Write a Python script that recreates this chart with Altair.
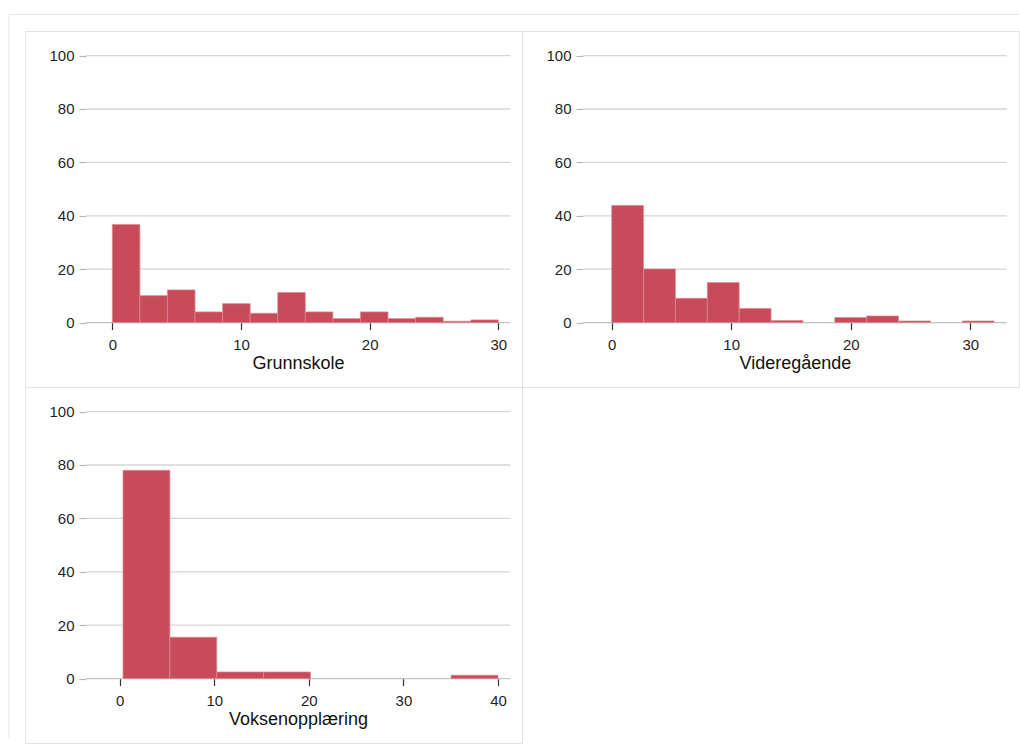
import altair as alt
import pandas as pd

# Percent of respondents per bin, three school types
Y_TICKS = [0, 20, 40, 60, 80, 100]

GRUNNSKOLE_PCT = [36.75, 10.1, 12.25, 4.0, 7.1, 3.5, 11.25, 4.0, 1.5, 4.0, 1.5, 2.0, 0.5, 1.0]
GRUNNSKOLE_RANGE = [0.0, 30.0]
GRUNNSKOLE_TICKS = [0, 10, 20, 30]

VIDEREGAENDE_PCT = [43.9, 20.1, 9.1, 15.0, 5.25, 0.75, 0.0, 1.9, 2.5, 0.6, 0.0, 0.6]
VIDEREGAENDE_RANGE = [0.0, 32.0]
VIDEREGAENDE_TICKS = [0, 10, 20, 30]

VOKSEN_PCT = [78.0, 15.5, 2.5, 2.5, 0.0, 0.0, 0.0, 1.3]
VOKSEN_RANGE = [0.35, 40.0]
VOKSEN_TICKS = [0, 10, 20, 30, 40]

PANEL_W = 497
PANEL_H = 356
Y_DOMAIN = [-24.12, 109.21]

FONT = "Liberation Sans"
BAR_FILL = "#c84b5a"
BAR_EDGE = "#dd8a95"
GRID = "#d6d6d6"
ZERO = "#c4c4c4"
FRAME = "#e4e4e4"


def panel(pcts, rng, ticks, title, x_domain, grid_span, with_frame=False):
    n = len(pcts)
    width = (rng[1] - rng[0]) / n
    bars = pd.DataFrame({
        "start": [rng[0] + i * width for i in range(n)],
        "end": [rng[0] + (i + 1) * width for i in range(n)],
        "pct": pcts,
    })
    bars = bars[bars["pct"] > 0]

    grid = pd.DataFrame({"v": Y_TICKS, "a": grid_span[0], "b": grid_span[1]})

    xs = alt.Scale(domain=x_domain, nice=False, zero=False)
    ys = alt.Scale(domain=Y_DOMAIN, nice=False, zero=False)

    x_axis = alt.Axis(
        values=ticks, offset=-64.4, domain=False, grid=False,
        tickSize=7, tickColor="#333333", tickWidth=1.2,
        labelFontSize=15, labelFont=FONT, labelColor="#1f1f1f",
        labelPadding=8, labelFlush=False,
        title=title, titleFont=FONT, titleFontSize=18,
        titleFontWeight="normal", titleColor="#111111",
        titleX=273, titleY=46, titleBaseline="alphabetic",
        titleAlign="center",
    )
    y_axis = alt.Axis(
        values=Y_TICKS, offset=-61, domain=False, grid=False,
        tickSize=7, tickColor="#b8b8b8", tickWidth=1.2,
        labelFontSize=15, labelFont=FONT, labelColor="#1f1f1f",
        labelPadding=5, title=None,
    )

    grid_layer = alt.Chart(grid).mark_rule(strokeWidth=1.3).encode(
        x=alt.X("a:Q", scale=xs, axis=x_axis),
        x2="b:Q",
        y=alt.Y("v:Q", scale=ys, axis=y_axis),
        color=alt.condition(alt.datum.v == 0, alt.value(ZERO), alt.value(GRID)),
    )

    bar_layer = alt.Chart(bars).mark_rect(
        color=BAR_FILL, stroke=BAR_EDGE, strokeWidth=0.7
    ).encode(
        x=alt.X("start:Q", scale=xs, axis=x_axis),
        x2="end:Q",
        y=alt.Y("pct:Q", scale=ys, axis=y_axis),
        y2=alt.datum(0),
    )

    layers = [grid_layer, bar_layer]
    if with_frame:
        one = pd.DataFrame({"k": [0]})
        top_line = alt.Chart(one).mark_rule(color=FRAME, strokeWidth=1).encode(
            x=alt.value(-16), x2=alt.value(994), y=alt.value(-16.5)
        )
        left_line = alt.Chart(one).mark_rule(color=FRAME, strokeWidth=1).encode(
            x=alt.value(-16), y=alt.value(-16.5), y2=alt.value(708)
        )
        layers += [top_line, left_line]

    return alt.layer(*layers).properties(width=PANEL_W, height=PANEL_H)


p1 = panel(GRUNNSKOLE_PCT, GRUNNSKOLE_RANGE, GRUNNSKOLE_TICKS, "Grunnskole",
           [-6.785, 31.84], [-2.04, 30.93], with_frame=True)
p2 = panel(VIDEREGAENDE_PCT, VIDEREGAENDE_RANGE, VIDEREGAENDE_TICKS, "Videregående",
           [-7.506, 34.08], [-2.40, 33.05])
p3 = panel(VOKSEN_PCT, VOKSEN_RANGE, VOKSEN_TICKS, "Voksenopplæring",
           [-10.013, 42.54], [-3.56, 41.30])

chart = alt.concat(p1, p2, p3, columns=2, spacing=0, bounds="flush").properties(
    padding={"left": 8, "top": 13, "right": 0, "bottom": 0},
    background="white",
).configure_view(stroke="#e2e2e2", strokeWidth=1)

chart.save("out.html", embed_options={"renderer": "svg", "actions": False})
